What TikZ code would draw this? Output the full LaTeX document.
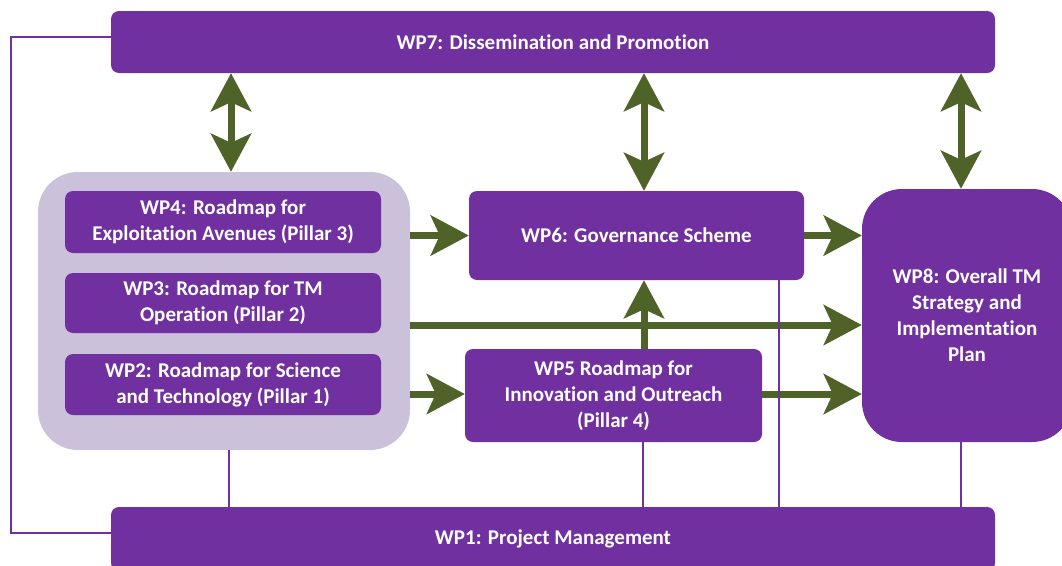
\documentclass[tikz,border=0pt]{standalone}
\usepackage{fontspec}
\setmainfont[Ligatures=NoCommon]{Carlito}
\usetikzlibrary{arrows.meta}
\definecolor{wppurple}{HTML}{7030A0}
\definecolor{grouplav}{HTML}{CCC1DA}
\definecolor{arrgreen}{HTML}{4F6228}

\begin{document}
\begin{tikzpicture}[x=1pt,y=-1pt,
  wp/.style={fill=wppurple, draw=none, rounded corners=8pt, inner sep=0pt,
    text=white, align=center, font=\bfseries\fontsize{21}{26}\selectfont},
  flow/.style={draw=arrgreen, line width=7pt,
    -{Stealth[length=38pt,width=40pt,inset=9pt]}},
  biflow/.style={flow,
    {Stealth[length=38pt,width=40pt,inset=9pt]}-{Stealth[length=38pt,width=40pt,inset=9pt]}},
  link/.style={draw=wppurple, line width=2.4pt}]
\clip (0,0) rectangle (1062,565);
\fill[white] (0,0) rectangle (1062,565);

% work packages
\node[wp, minimum width=884pt, minimum height=62pt] (wp7) at (553,42)
  {WP7: Dissemination and Promotion};
\node[wp, minimum width=884pt, minimum height=64pt] (wp1) at (553,539)
  {WP1: Project Management};
\node[fill=grouplav, rounded corners=40pt, minimum width=372pt, minimum height=278pt,
  inner sep=0pt] (grp) at (224,311) {};
\node[wp, minimum width=316pt, minimum height=62pt] (wp4) at (223,222)
  {WP4: Roadmap for\\Exploitation Avenues (Pillar 3)};
\node[wp, minimum width=316pt, minimum height=60pt] (wp3) at (223,303)
  {WP3: Roadmap for TM\\Operation (Pillar 2)};
\node[wp, minimum width=316pt, minimum height=61pt] (wp2) at (223,384.5)
  {WP2: Roadmap for Science\\and Technology (Pillar 1)};
\node[wp, minimum width=335pt, minimum height=89pt] (wp6) at (636.5,235.5)
  {WP6: Governance Scheme};
\node[wp, minimum width=297pt, minimum height=93pt] (wp5) at (613.5,395.5)
  {WP5 Roadmap for\\Innovation and Outreach\\(Pillar 4)};
\node[wp, rounded corners=40pt, minimum width=210pt, minimum height=253pt] (wp8) at (967,315.5)
  {WP8: Overall TM\\Strategy and\\Implementation\\Plan};

% reference columns and rows for the connectors
\coordinate (ca) at (231,0);
\coordinate (cb) at (644,0);
\coordinate (cc) at (961,0);
\coordinate (cd) at (229,0);
\coordinate (ce) at (643,0);
\coordinate (cf) at (779,0);
\coordinate (ry) at (0,325);
\coordinate (rz) at (0,394);
\coordinate (lx) at (11,0);
\coordinate (ytop) at (0,37);
\coordinate (ybot) at (0,533);

% exchanges with dissemination
\draw[biflow] (wp7.south -| ca) -- (grp.north -| ca);
\draw[biflow] (wp7.south -| cb) -- (wp6.north -| cb);
\draw[biflow] (wp7.south -| cc) -- (wp8.north -| cc);

% flows between work packages
\draw[flow] (grp.east |- wp6) -- (wp6.west);
\draw[flow] (wp6.east) -- (wp8.west |- wp6);
\draw[flow] (grp.east |- ry) -- (wp8.west |- ry);
\draw[flow] (grp.east |- rz) -- (wp5.west |- rz);
\draw[flow] (wp5.east |- rz) -- (wp8.west |- rz);
\draw[flow] (wp5.north -| cb) -- (wp6.south -| cb);

% management links
\draw[link] (grp.south -| cd) -- (wp1.north -| cd);
\draw[link] (wp5.south -| ce) -- (wp1.north -| ce);
\draw[link] (wp6.south -| cf) -- (wp1.north -| cf);
\draw[link] (wp8.south -| cc) -- (wp1.north -| cc);
\draw[link] (wp7.west |- ytop) -- (lx |- ytop) -- (lx |- ybot) -- (wp1.west |- ybot);
\end{tikzpicture}
\end{document}
